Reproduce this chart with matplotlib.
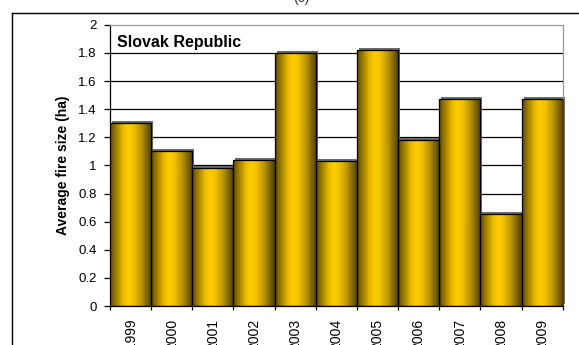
import matplotlib
matplotlib.use("Agg")
import matplotlib.pyplot as plt
import matplotlib.transforms as mtransforms
from matplotlib.lines import Line2D
import numpy as np

plt.rcParams['font.family'] = ['Liberation Sans', 'DejaVu Sans']

# data
years = ["1999", "2000", "2001", "2002", "2003", "2004",
         "2005", "2006", "2007", "2008", "2009"]
avg_size = [1.30, 1.10, 0.98, 1.04, 1.80, 1.03, 1.82, 1.18, 1.47, 0.655, 1.475]
country = "Slovak Republic"
y_ticks = [0, 0.2, 0.4, 0.6, 0.8, 1, 1.2, 1.4, 1.6, 1.8, 2]
y_ticklabels = ["0", "0.2", "0.4", "0.6", "0.8", "1", "1.2", "1.4", "1.6", "1.8", "2"]

fig = plt.figure(figsize=(5.79, 3.45), dpi=100)
ax = fig.add_axes([0.190, 0.113, 0.782, 0.815])

x = np.arange(len(years))

# shadow behind bars (offset a couple of pixels up/right)
shadow_tr = mtransforms.offset_copy(ax.transData, fig=fig, x=2, y=2, units='dots')
ax.bar(x, avg_size, width=1.0, color='#6a6a6a', edgecolor='none',
       transform=shadow_tr, zorder=2, clip_on=False)

bars = ax.bar(x, avg_size, width=1.0, color='#FFCC00', edgecolor='black',
              linewidth=0.9, zorder=3)

# cylinder-like horizontal gradient in each bar
stops = [0.0, 0.12, 0.3, 0.42, 0.55, 0.75, 0.9, 1.0]
cols = np.array([[95, 76, 0], [150, 120, 0], [230, 185, 0], [255, 204, 0],
                 [245, 196, 0], [185, 148, 0], [120, 96, 0], [80, 64, 0]]) / 255.0
t = np.linspace(0, 1, 64)
grad = np.stack([np.interp(t, stops, cols[:, k]) for k in range(3)], axis=-1)[None, :, :]
for b in bars:
    x0, w, h = b.get_x(), b.get_width(), b.get_height()
    im = ax.imshow(grad, extent=[x0, x0 + w, 0, h], aspect='auto',
                   interpolation='bilinear', zorder=3.5)
    im.set_clip_path(b)
    b.set_facecolor('none')
    b.set_zorder(4)

ax.set_xlim(-0.5, len(years) - 0.5)
ax.set_ylim(0, 2)

# gridlines
for v in y_ticks[1:-1]:
    ax.axhline(v, color='black', lw=0.9, zorder=1)

ax.set_yticks(y_ticks)
ax.set_yticklabels(y_ticklabels, fontsize=9.5)
ax.tick_params(axis='y', length=4.5, width=0.9, pad=5, colors='black')

ax.set_xticks(np.arange(-0.5, len(years), 1.0))
ax.set_xticklabels([])
ax.tick_params(axis='x', which='major', length=3, width=0.9)
ax.set_xticks(x, minor=True)
ax.set_xticklabels(years, minor=True, rotation=90, fontsize=10)
ax.tick_params(axis='x', which='minor', length=0, pad=9)

ax.set_ylabel("Average fire size (ha)", fontsize=10, fontweight='bold', labelpad=6)

for s in ['left', 'bottom']:
    ax.spines[s].set_color('black')
    ax.spines[s].set_linewidth(0.9)
for s in ['top', 'right']:
    ax.spines[s].set_color('#999999')
    ax.spines[s].set_linewidth(0.9)
ax.spines['bottom'].set_zorder(5)

ax.text(0.016, 0.965, country, transform=ax.transAxes, fontsize=11.5,
        fontweight='bold', va='top', ha='left', zorder=6)

# outer frame and cut-off panel label
fig.add_artist(Line2D([12 / 579, 1.0], [1 - 13 / 345, 1 - 13 / 345],
                      color='black', lw=1.0, transform=fig.transFigure))
fig.add_artist(Line2D([12 / 579, 12 / 579], [0, 1 - 13 / 345],
                      color='black', lw=1.0, transform=fig.transFigure))
fig.text(0.52, 1.005, "(c)", fontsize=10, ha='center', va='center', color='#333333')

fig.savefig("out.png", dpi=100)
